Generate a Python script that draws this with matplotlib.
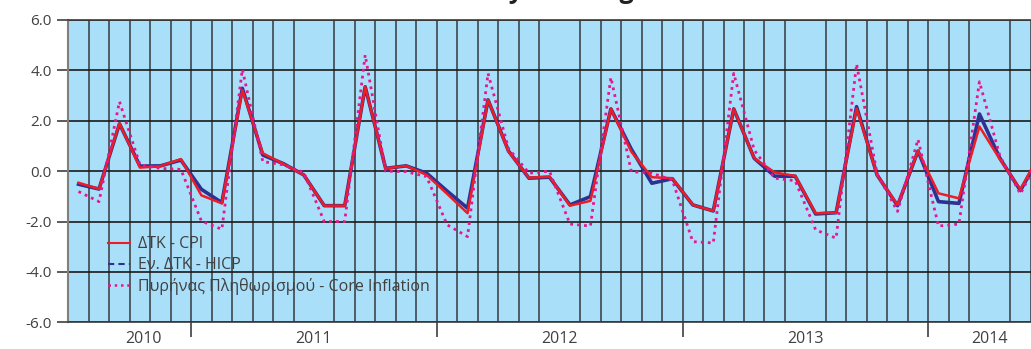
import numpy as np
import pandas as pd
import matplotlib
matplotlib.use("Agg")
import matplotlib.pyplot as plt
from matplotlib.lines import Line2D

plt.rcParams['font.family'] = ['Open Sans', 'DejaVu Sans']

# monthly data, Jul 2010 - Jun 2014
months = pd.period_range("2010-07", "2014-06", freq="M")
cpi = [-0.46, -0.71, 1.90, 0.14, 0.20, 0.48, -0.96, -1.28, 3.22, 0.71, 0.29, -0.15,
       -1.37, -1.37, 3.35, 0.11, 0.21, -0.15, -0.90, -1.67, 2.83, 0.78, -0.26, -0.22,
       -1.37, -1.18, 2.47, 0.77, -0.24, -0.28, -1.34, -1.58, 2.47, 0.51, -0.05, -0.19,
       -1.67, -1.65, 2.49, -0.15, -1.34, 0.80, -0.88, -1.08, 1.77, 0.47, -0.72, 0.75]
hicp = [-0.52, -0.71, 1.88, 0.20, 0.21, 0.44, -0.72, -1.25, 3.29, 0.64, 0.30, -0.15,
        -1.37, -1.37, 3.35, 0.11, 0.21, -0.08, -0.79, -1.47, 2.83, 0.80, -0.28, -0.24,
        -1.34, -1.01, 2.47, 0.87, -0.48, -0.30, -1.34, -1.58, 2.47, 0.51, -0.20, -0.20,
        -1.70, -1.65, 2.56, -0.15, -1.37, 0.80, -1.21, -1.28, 2.27, 0.51, -0.77, 0.70]
core = [-0.81, -1.21, 2.76, 0.25, 0.11, 0.07, -1.98, -2.31, 4.04, 0.38, 0.25, -0.05,
        -2.00, -2.00, 4.61, 0.00, -0.02, -0.22, -2.13, -2.60, 3.88, 0.90, -0.08, 0.00,
        -2.10, -2.18, 3.72, -0.02, -0.08, -0.35, -2.80, -2.85, 3.88, 0.84, -0.28, -0.38,
        -2.33, -2.66, 4.25, -0.10, -1.60, 1.26, -2.18, -2.10, 3.55, 0.60, -0.90, 0.65]
labels = ["ΔΤΚ - CPI", "Εν. ΔΤΚ - HICP", "Πυρήνας Πληθωρισμού - Core Inflation"]
title = "Monthly % change"

RED = "#ee1c25"
NAVY = "#2e3192"
PINK = "#e6168f"
TXT = "#404040"

x = np.arange(len(months))
years = np.array([p.year for p in months])

fig = plt.figure(figsize=(10.31, 3.49), dpi=100)
# axes runs past the right edge, the source picture is cropped there
ax = fig.add_axes([68.3 / 1031, 26.7 / 349, 982.8 / 1031, 302.3 / 349])
ax.set_facecolor("#aadff9")

ax.plot(x, hicp, color=NAVY, lw=2.6, zorder=3)
ax.plot(x, cpi, color=RED, lw=1.8, zorder=4)
ax.plot(x, core, color=PINK, lw=2.0, ls=(0, (1, 1.5)), zorder=5)

ax.set_xlim(-0.5, len(months) - 0.5)
ax.set_ylim(-6, 6)
ax.set_yticks(np.arange(-6, 6.1, 2))
ax.set_yticklabels([f"{v:.1f}" for v in np.arange(-6, 6.1, 2)])
ax.tick_params(axis="y", length=8, width=1.2, color="#404040", labelsize=11,
               labelcolor=TXT, pad=4)
ax.yaxis.grid(True, color="#1a1a1a", lw=1.2)

# month cell borders
ax.set_xticks(np.arange(-0.5, len(months), 1), minor=True)
ax.xaxis.grid(True, which="minor", color="#4f5c64", lw=1.4)
ax.tick_params(axis="x", which="minor", length=0)

# year labels
yr_list = sorted(set(years))
centers = [x[years == y].mean() for y in yr_list]
centers[0] += 0.66
ax.set_xticks(centers)
ax.set_xticklabels([str(y) for y in yr_list])
ax.tick_params(axis="x", which="major", length=0, labelsize=11.5, labelcolor=TXT, pad=6)

# year separators
bounds = [x[years == y][0] - 0.5 for y in yr_list[1:]]
ax.vlines(bounds, -0.05, 0, transform=ax.get_xaxis_transform(), color="#404040",
          lw=1.2, clip_on=False)

ax.set_axisbelow(True)
ax.spines["left"].set_color("#7f7f7f")
ax.spines["left"].set_linewidth(1.5)
for s in ["top", "bottom"]:
    ax.spines[s].set_color("#3a3a3a")
    ax.spines[s].set_linewidth(1.2)

handles = [Line2D([], [], color=RED, lw=1.5),
           Line2D([], [], color=NAVY, lw=1.5, ls=(0, (3, 2))),
           Line2D([], [], color=PINK, lw=1.8, ls=(0, (1, 1.5)))]
leg = ax.legend(handles, labels, loc="upper left", bbox_to_anchor=(0.034, 0.305),
                frameon=False, fontsize=11.5, handlelength=1.4, handletextpad=0.5,
                labelspacing=0.3, borderaxespad=0)
leg.set_zorder(6)
for t in leg.get_texts():
    t.set_color(TXT)

# title sits above the cropped top edge, only its descenders show
fig.text(418 / 1031, 1.006, title, fontsize=18, fontweight="bold", color="#222222",
         ha="left", va="baseline")

fig.savefig("out.png", dpi=100)
